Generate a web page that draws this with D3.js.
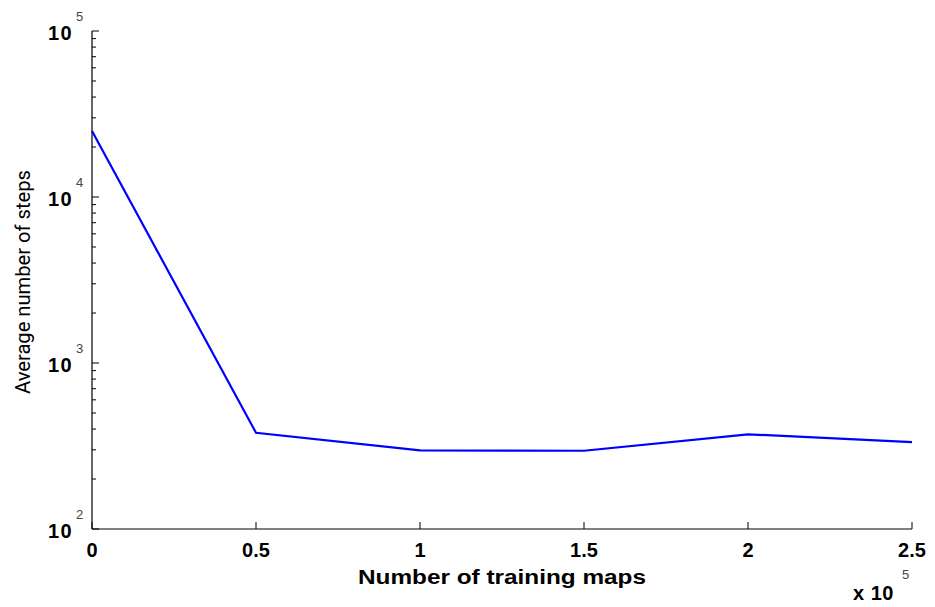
<!DOCTYPE html>
<html><head><meta charset="utf-8">
<script src="https://cdn.jsdelivr.net/npm/d3@7"></script>
<style>body{margin:0;background:#fff}svg{display:block}</style>
</head><body>
<svg id="c" width="935" height="607"></svg>
<script>
const xValues = [0, 0.5, 1, 1.5, 2, 2.5];
const steps = [25000, 380, 298, 296, 372, 334];
const xTicks = [0, 0.5, 1, 1.5, 2, 2.5];
const xTickLabels = ["0", "0.5", "1", "1.5", "2", "2.5"];
const yDecades = [2, 3, 4, 5];
const xLabel = "Number of training maps";
const yLabel = "Average number of steps";

const svg = d3.select("#c");
const L = 92, R = 912, T = 31, B = 529;
const x = d3.scaleLinear().domain([0, 2.5]).range([L, R]);
const y = d3.scaleLog().domain([100, 100000]).range([B, T]);

const g = svg.append("g");
g.append("line").attr("x1", L).attr("x2", L).attr("y1", T).attr("y2", B).attr("stroke", "#000").attr("stroke-width", 1.2);
g.append("line").attr("x1", L).attr("x2", R).attr("y1", B).attr("y2", B).attr("stroke", "#000").attr("stroke-width", 1.2);

const yt = [];
for (let d = 2; d < 5; d++) for (let m = 1; m < 10; m++) yt.push(m * Math.pow(10, d));
yt.push(100000);
g.selectAll(".yt").data(yt).enter().append("line")
  .attr("x1", L).attr("x2", v => L + (Math.abs(Math.log10(v) - Math.round(Math.log10(v))) < 1e-9 ? 7 : 4))
  .attr("y1", v => y(v)).attr("y2", v => y(v))
  .attr("stroke", "#000").attr("stroke-width", 1);

g.selectAll(".xt").data(xTicks).enter().append("line")
  .attr("x1", v => x(v)).attr("x2", v => x(v)).attr("y1", B).attr("y2", B - 7)
  .attr("stroke", "#000").attr("stroke-width", 1);

const yl = g.selectAll(".yl").data(yDecades).enter().append("g");
yl.append("text").attr("x", 48).attr("y", d => y(Math.pow(10, d)) + 9)
  .attr("font-family", "Liberation Sans, Arial, sans-serif").attr("letter-spacing", 1.5)
  .attr("font-weight", "bold").attr("font-size", 20).attr("fill", "#000").text("10");
yl.append("text").attr("x", 76).attr("y", d => y(Math.pow(10, d)) - 10)
  .attr("font-family", "Liberation Sans, Arial, sans-serif")
  .attr("font-size", 13).attr("fill", "#444").text(d => d);

g.selectAll(".xl").data(xTicks).enter().append("text")
  .attr("x", v => x(v)).attr("y", 557).attr("text-anchor", "middle")
  .attr("font-family", "Liberation Sans, Arial, sans-serif").attr("font-weight", "bold")
  .attr("font-size", 20).attr("fill", "#000").text((v, i) => xTickLabels[i]);

g.append("text").attr("x", 853).attr("y", 600).attr("font-family", "Liberation Sans, Arial, sans-serif")
  .attr("font-weight", "bold").attr("font-size", 20).attr("letter-spacing", 0.5).text("x 10");
g.append("text").attr("x", 902).attr("y", 579).attr("font-family", "Liberation Sans, Arial, sans-serif")
  .attr("font-size", 13).attr("fill", "#444").text("5");

g.append("text").attr("x", (L + R) / 2).attr("y", 584).attr("text-anchor", "middle")
  .attr("font-family", "Liberation Sans, Arial, sans-serif").attr("font-weight", "bold")
  .attr("font-size", 20).attr("textLength", 288).attr("lengthAdjust", "spacingAndGlyphs").text(xLabel);
g.append("text").attr("transform", "translate(30,282) rotate(-90)").attr("text-anchor", "middle")
  .attr("font-family", "Roboto, Liberation Sans, sans-serif")
  .attr("font-size", 21).attr("textLength", 224).attr("lengthAdjust", "spacingAndGlyphs").text(yLabel);

const line = d3.line().x((d, i) => x(xValues[i])).y(d => y(d));
g.append("path").datum(steps).attr("d", line).attr("fill", "none")
  .attr("stroke", "#0000ff").attr("stroke-width", 2.2);
</script>
</body></html>
